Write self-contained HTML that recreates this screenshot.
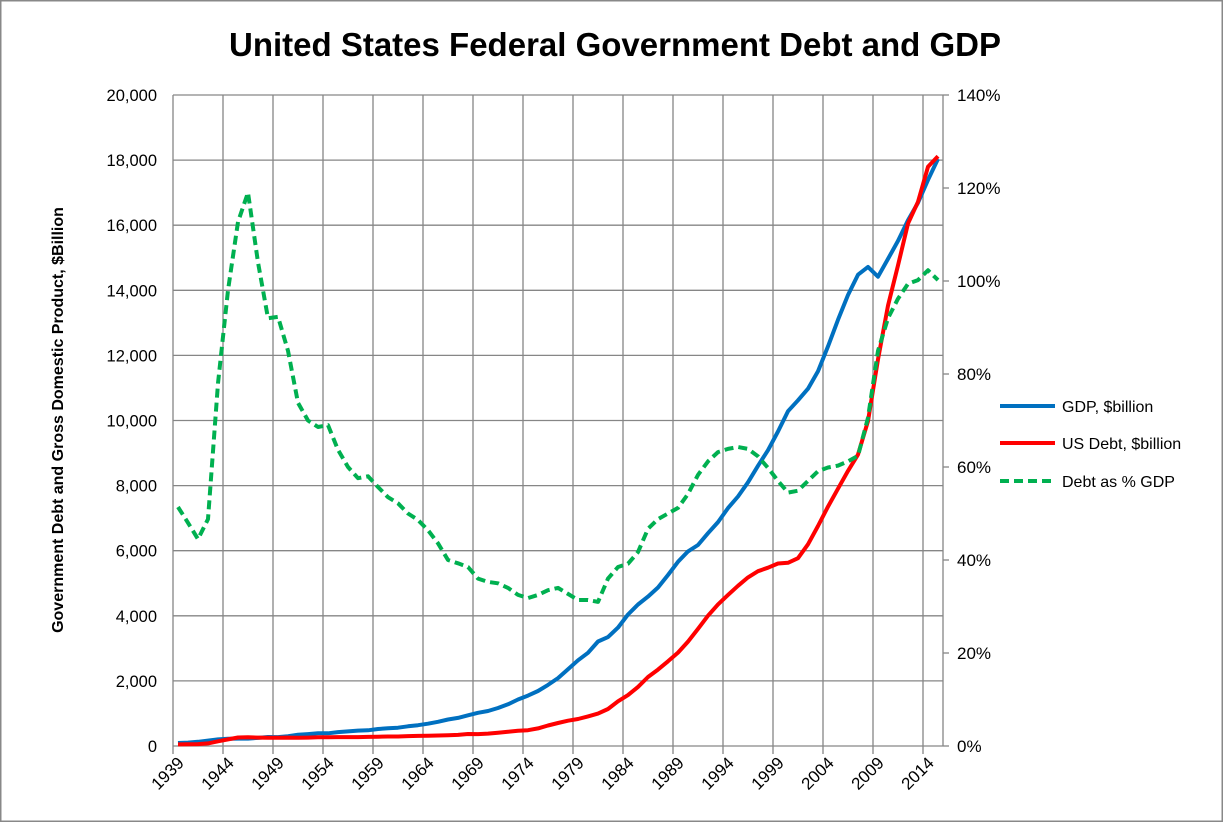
<!DOCTYPE html>
<html><head><meta charset="utf-8"><style>
body{margin:0;background:#fff;}
svg{display:block;font-family:"Liberation Sans",Arial,sans-serif;}
</style></head><body>
<svg id="chart" width="1223" height="822">
<rect x="0.5" y="0.5" width="1222" height="821" fill="#fff" stroke="#888" stroke-width="2"/>
<text x="615" y="56" text-anchor="middle" font-size="33" font-weight="bold">United States Federal Government Debt and GDP</text>
<text transform="translate(63,420) rotate(-90)" text-anchor="middle" font-size="16" font-weight="bold">Government Debt and Gross Domestic Product, $Billion</text>
<g id="grid"></g><g id="axes"></g><g id="series"></g>
<g>
<line x1="1000" y1="406" x2="1055" y2="406" stroke="#0070C0" stroke-width="4"/>
<text x="1062" y="412" font-size="16">GDP, $billion</text>
<line x1="1000" y1="443" x2="1055" y2="443" stroke="#FF0000" stroke-width="4"/>
<text x="1062" y="449" font-size="16">US Debt, $billion</text>
<line x1="1000" y1="481" x2="1055" y2="481" stroke="#00B050" stroke-width="4" stroke-dasharray="9,5"/>
<text x="1062" y="487" font-size="16">Debt as % GDP</text>
</g>
</svg>
<script>
const years=[];for(let y=1939;y<=2015;y++)years.push(y);
const gdp=[93,103,129,166,203,225,228,227,250,275,272,300,347,367,389,391,426,450,474,482,522,543,563,605,638,686,743,815,862,943,1019,1075,1168,1282,1429,1549,1689,1878,2086,2357,2632,2863,3211,3345,3638,4041,4347,4590,4870,5253,5658,5980,6174,6539,6879,7309,7664,8100,8609,9089,9661,10285,10622,10978,11511,12275,13094,13856,14478,14719,14419,14964,15518,16155,16692,17393,18037];
const debt=[48,51,58,79,143,204,260,271,257,252,253,257,255,259,266,271,274,273,272,280,287,291,293,303,310,317,322,328,340,369,366,381,408,436,466,484,542,629,706,777,829,909,995,1137,1372,1565,1817,2121,2346,2601,2868,3206,3598,4002,4351,4643,4921,5181,5369,5478,5606,5629,5770,6198,6760,7355,7905,8451,8951,9986,11876,13529,14764,16051,16719,17794,18120];
const pct=[51.4,48,44.5,48.8,78,98,112.7,119,104,92,92.3,85,73.8,70,68.6,69,63.7,60,57.6,58,55.7,53.5,52.2,50,48.6,46.4,43.6,40,39.3,38.5,36,35.3,35,34,32.5,31.8,32.5,33.5,34,32.7,31.4,31.4,31,36,38.5,39.2,41.7,46.7,48.8,50,51.2,54.2,58.3,61.2,63.2,63.9,64.3,63.9,62.3,59.8,57,54.5,54.9,57,59.1,59.9,60.3,61.2,62.4,70.6,85,92,96.2,99.4,100.2,102.3,100.2];
const leftTicks=[0,2000,4000,6000,8000,10000,12000,14000,16000,18000,20000];
const rightTicks=[0,20,40,60,80,100,120,140];
const L=173,R=943,T=95,B=746,W=(R-L)/years.length;
const xs=i=>L+W*(i+0.5);
const yl=v=>B-(v/20000)*(B-T);
const yr=v=>B-(v/140)*(B-T);
const NS="http://www.w3.org/2000/svg";
function mk(tag,attrs,parent){const e=document.createElementNS(NS,tag);for(const k in attrs)e.setAttribute(k,attrs[k]);document.getElementById(parent).appendChild(e);return e;}
leftTicks.forEach(v=>{
 const g=mk('line',{x1:L,x2:R,y1:yl(v),y2:yl(v),stroke:'#868686','stroke-width':1.3},'grid');
 
 
 const t=mk('text',{x:157,y:yl(v)+6,'text-anchor':'end','font-size':16.5},'axes');t.textContent=v.toLocaleString('en-US');
 
 
});
rightTicks.forEach(v=>{
 const k=mk('line',{x1:R,x2:R+6,y1:yr(v),y2:yr(v),stroke:'#868686','stroke-width':1.3},'axes');
 
 
 const t=mk('text',{x:957,y:yr(v)+6,'font-size':17},'axes');t.textContent=v+'%';
 
 
});
for(let i=0;i<years.length;i+=5){
 const x=L+W*i;
 const g=mk('line',{x1:x,x2:x,y1:T,y2:B+8,stroke:'#868686','stroke-width':1.3},'grid');
 
 
 const t=mk('text',{'text-anchor':'end','font-size':17,transform:`translate(${xs(i)+7},${B+18}) rotate(-45)`},'axes');
 t.textContent=years[i];
 
 
}
const ax=mk('line',{x1:R,x2:R,y1:T,y2:B,stroke:'#868686','stroke-width':1.3},'axes');


function line(vals,yf,color,dash,name){
 const d=vals.map((v,i)=>(i?'L':'M')+xs(i).toFixed(1)+','+yf(v).toFixed(1)).join('');
 const p=mk('path',{d:d,fill:'none',stroke:color,'stroke-width':4,'stroke-linejoin':'round'},'series');
 if(dash)p.setAttribute('stroke-dasharray',dash);
 
 
}
line(gdp,yl,'#0070C0',null,'gdp-line');
line(debt,yl,'#FF0000',null,'debt-line');
line(pct,yr,'#00B050','9,5','debt-pct-gdp-line');
</script>
</body></html>
